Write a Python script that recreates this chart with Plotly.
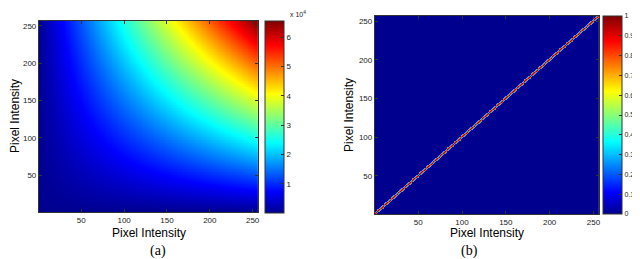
import plotly.graph_objects as go

# ---- data ----
intensities = list(range(1, 257))            # pixel intensity bins (x and y)
tick_vals = [50, 100, 150, 200, 250]
cb_a_ticks = [10000, 20000, 30000, 40000, 50000, 60000]
cb_a_text = ["1", "2", "3", "4", "5", "6"]
cb_b_ticks = [0, 0.1, 0.2, 0.3, 0.4, 0.5, 0.6, 0.7, 0.8, 0.9, 1]
cb_b_text = ["0", "0.1", "0.2", "0.3", "0.4", "0.5", "0.6", "0.7", "0.8", "0.9", "1"]
# (b): value across the diagonal band, by distance from the diagonal
diag_offsets = [0, 1, 2, 3]
diag_values = [0.95, 0.8, 0.3, 0.05]

# (a): product of the two intensities (joint map), (b): diagonal band
z_a = [[xi * yj for xi in intensities] for yj in intensities]
band = dict(zip(diag_offsets, diag_values))
z_b = [[band.get(abs(xi - yj), 0.0) for xi in intensities] for yj in intensities]

jet = [
    [0.0, "rgb(0,0,143)"],
    [0.111, "rgb(0,0,255)"],
    [0.365, "rgb(0,255,255)"],
    [0.619, "rgb(255,255,0)"],
    [0.873, "rgb(255,0,0)"],
    [1.0, "rgb(128,0,0)"],
]

W, H = 640, 259
def px(x): return x / W
def py(y): return 1 - y / H

FONT = "Liberation Sans, Arial, sans-serif"
tickfont = dict(family=FONT, size=8, color="#222")
cbfont = dict(family=FONT, size=7, color="#222")

fig = go.Figure()
fig.add_trace(go.Heatmap(
    x=intensities, y=intensities, z=z_a, zmin=1, zmax=65536,
    colorscale=jet, xaxis="x", yaxis="y",
    colorbar=dict(
        x=px(258), xanchor="left", y=py(13), yanchor="top",
        len=192 / H, lenmode="fraction", thickness=19, thicknessmode="pixels",
        outlinewidth=1, outlinecolor="#333",
        tickvals=cb_a_ticks, ticktext=cb_a_text, ticks="inside", ticklen=3,
        tickcolor="#333", tickfont=tickfont, xpad=0, ypad=0,
    ),
))
fig.add_trace(go.Heatmap(
    x=intensities, y=intensities, z=z_b, zmin=0, zmax=1,
    colorscale=jet, xaxis="x2", yaxis="y2",
    colorbar=dict(
        x=px(597), xanchor="left", y=py(8), yanchor="top",
        len=198 / H, lenmode="fraction", thickness=19, thicknessmode="pixels",
        outlinewidth=1, outlinecolor="#333",
        tickvals=cb_b_ticks, ticktext=cb_b_text, ticks="inside", ticklen=3,
        tickcolor="#333", tickfont=cbfont, xpad=0, ypad=0,
    ),
))

axis_common = dict(
    range=[0.5, 256.5], tickvals=tick_vals, ticks="inside", ticklen=3,
    tickcolor="#333", showline=True, linecolor="#333", linewidth=1,
    mirror="ticks", showgrid=False, zeroline=False, tickfont=tickfont,
    fixedrange=True,
)

fig.update_layout(
    width=W, height=H,
    margin=dict(l=0, r=0, t=0, b=0),
    paper_bgcolor="white", plot_bgcolor="white",
    showlegend=False,
    xaxis=dict(domain=[px(31), px(251)], anchor="y", **axis_common),
    yaxis=dict(domain=[py(204), py(13)], anchor="x", **axis_common),
    xaxis2=dict(domain=[px(368), px(593)], anchor="y2", **axis_common),
    yaxis2=dict(domain=[py(206), py(8)], anchor="x2", **axis_common),
)

title_font = dict(family=FONT, size=12, color="black")
serif = dict(family="Liberation Serif", size=14, color="black")
ann = [
    dict(text="Pixel Intensity", x=px(141), y=py(225), font=title_font),
    dict(text="Pixel Intensity", x=px(7), y=py(108), font=title_font, textangle=-90),
    dict(text="Pixel Intensity", x=px(480), y=py(225), font=title_font),
    dict(text="Pixel Intensity", x=px(342), y=py(107), font=title_font, textangle=-90),
    dict(text="x 10<sup>4</sup>", x=px(291), y=py(6), font=dict(family=FONT, size=7, color="#222")),
    dict(text="(a)", x=px(150), y=py(243), font=serif),
    dict(text="(b)", x=px(463), y=py(243), font=serif),
]
for a in ann:
    fig.add_annotation(xref="paper", yref="paper", showarrow=False,
                       xanchor="center", yanchor="middle", **a)

fig.write_html("out.html")
